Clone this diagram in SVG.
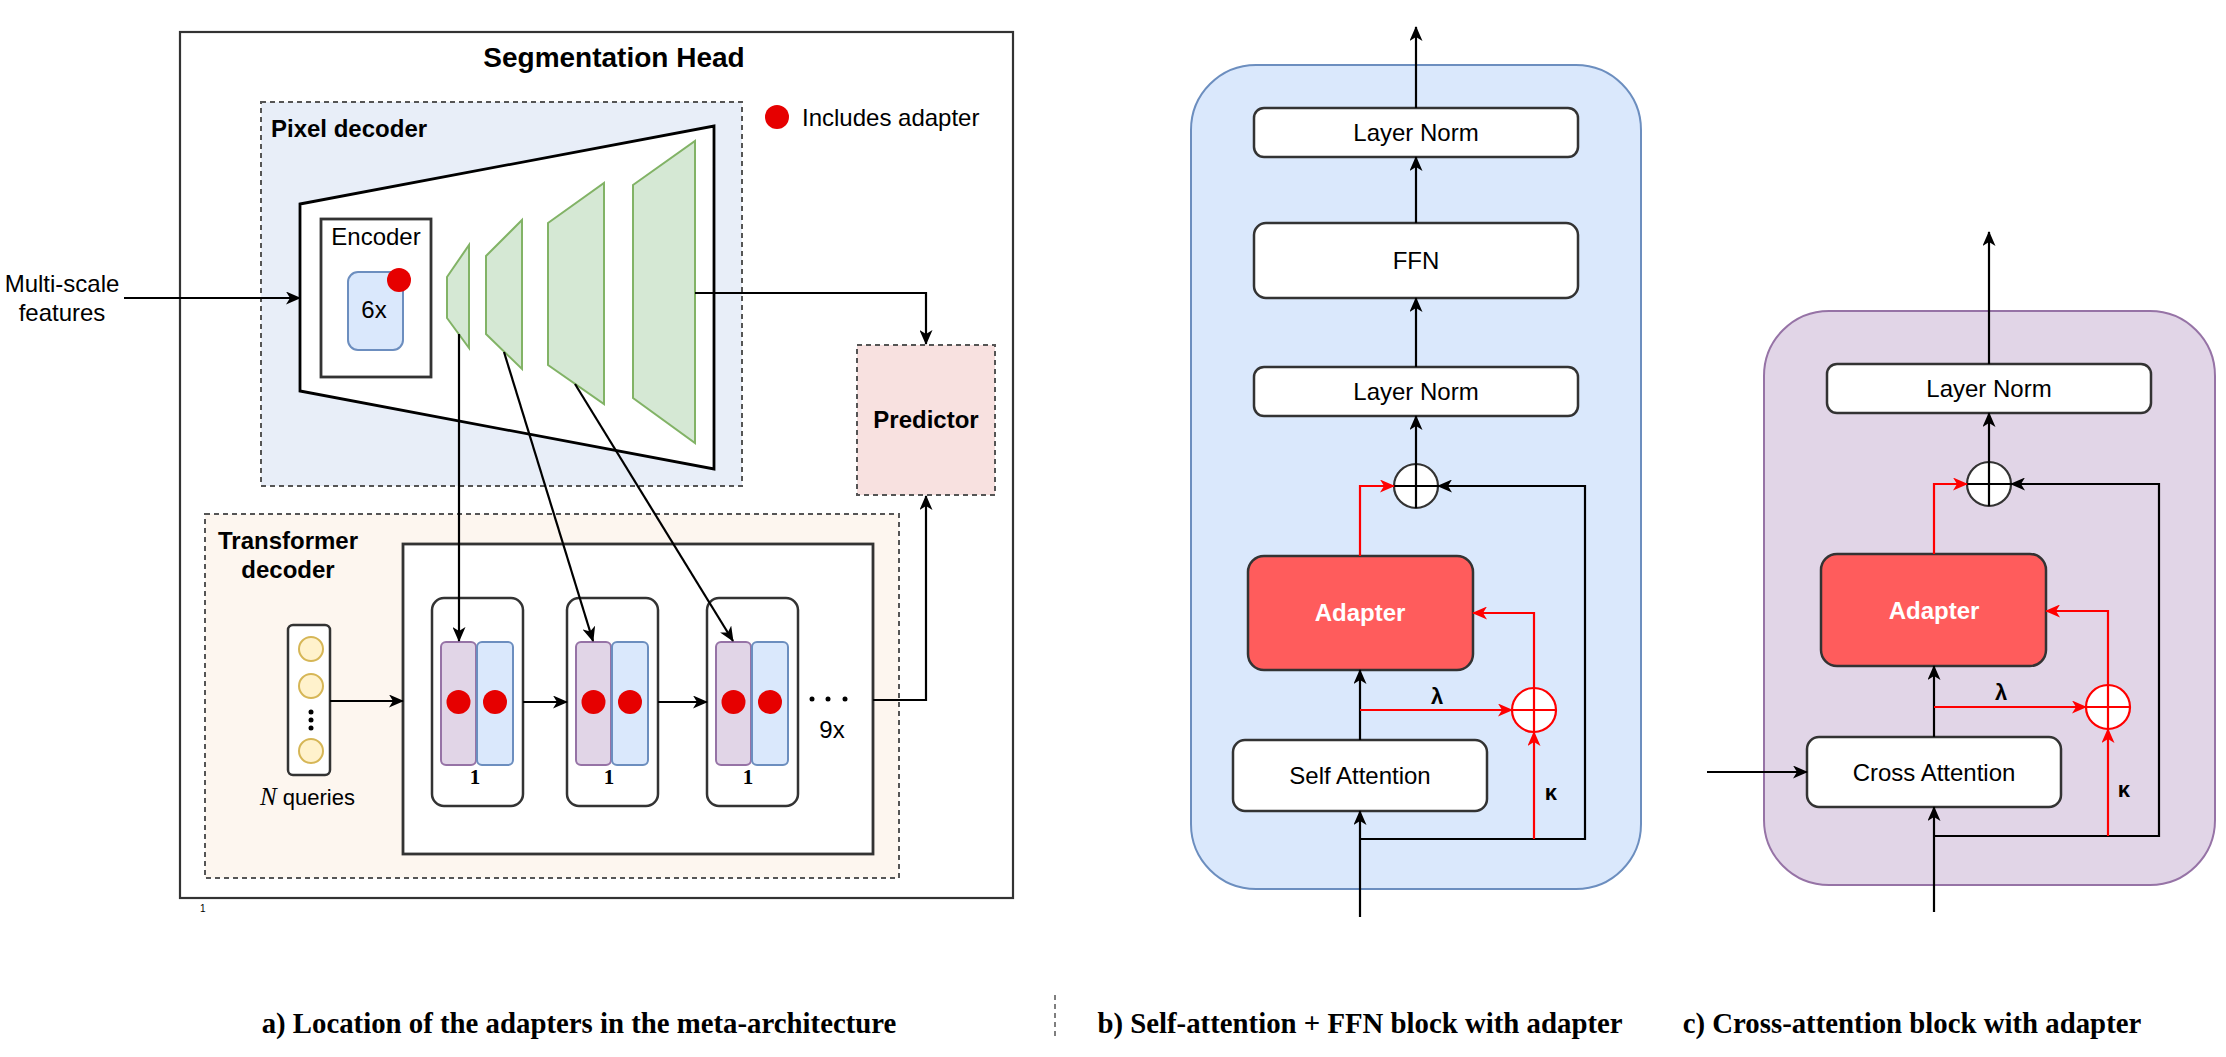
<svg xmlns="http://www.w3.org/2000/svg" width="2226" height="1057" viewBox="0 0 2226 1057">
<defs>
<marker id="arr" markerUnits="userSpaceOnUse" markerWidth="15" markerHeight="13" viewBox="0 0 15 13" refX="14" refY="6.5" orient="auto"><path d="M0,0 L15,6.5 L0,13 L4,6.5 Z" fill="#000"/></marker>
<marker id="arrR" markerUnits="userSpaceOnUse" markerWidth="15" markerHeight="13" viewBox="0 0 15 13" refX="14" refY="6.5" orient="auto"><path d="M0,0 L15,6.5 L0,13 L4,6.5 Z" fill="#ff0000"/></marker>
<style>
text{font-family:"Liberation Sans",Arial,sans-serif;fill:#000}
.t24{font-size:24px}
.b24{font-size:24px;font-weight:bold}
.cap{font-family:"Liberation Serif","Times New Roman",serif;font-size:28.8px;font-weight:bold;text-anchor:middle}
.mid{text-anchor:middle}
.greek{font-size:22px;font-weight:bold;text-anchor:middle}
.one{font-family:"Liberation Serif","Times New Roman",serif;font-weight:bold;font-size:21px;text-anchor:middle}
.ln{fill:none;stroke:#000;stroke-width:2.2}
.lnR{fill:none;stroke:#ff0000;stroke-width:2.2}
.box{fill:#fff;stroke:#333;stroke-width:2.5}
.adp{fill:#ff5c5c;stroke:#333;stroke-width:2.5}
.dot{fill:#e60000}
.green{fill:#d5e8d4;stroke:#82b366;stroke-width:2}
.pur{fill:#e1d5e7;stroke:#9673a6;stroke-width:2}
.blu{fill:#dae8fc;stroke:#6c8ebf;stroke-width:2}
.dash{stroke:#555;stroke-width:2;stroke-dasharray:5 4}
.q{fill:#fff2cc;stroke:#d6b656;stroke-width:2}
</style>
</defs>
<rect width="2226" height="1057" fill="#fff"/>

<!-- ===== a) Segmentation head ===== -->
<g id="segmentation-head">
<rect x="180" y="32" width="833" height="866" fill="#fff" stroke="#333" stroke-width="2.2"/>
<text x="614" y="67" class="mid" style="font-size:28px;font-weight:bold">Segmentation Head</text>
</g>

<g id="legend">
<circle cx="777" cy="117" r="12" class="dot"/>
<text x="802" y="126" class="t24">Includes adapter</text>
</g>

<g id="pixel-decoder">
<rect x="261" y="102" width="481" height="384" fill="#e8eef8" class="dash"/>
<text x="271" y="137" class="b24">Pixel decoder</text>
<polygon points="300,204 714,126 714,469 300,391" fill="#fff" stroke="#000" stroke-width="2.8"/>
<polygon points="447,277 469,245 469,348 447,318" class="green"/>
<polygon points="486,256 522,220 522,369 486,334" class="green"/>
<polygon points="548,223 604,183 604,404 548,365" class="green"/>
<polygon points="633,185 695,141 695,443 633,398" class="green"/>
</g>

<g id="encoder">
<rect x="321" y="219" width="110" height="158" fill="#fff" stroke="#333" stroke-width="2.8"/>
<text x="376" y="245" class="t24 mid">Encoder</text>
<rect x="348" y="272" width="55" height="78" rx="10" class="blu"/>
<text x="374" y="318" class="t24 mid">6x</text>
<circle cx="399" cy="280" r="12" class="dot"/>
</g>

<g id="multi-scale-features">
<text x="62" y="292" class="t24 mid">Multi-scale</text>
<text x="62" y="321" class="t24 mid">features</text>
</g>

<g id="predictor">
<rect x="857" y="345" width="138" height="150" fill="#f8e1e0" class="dash"/>
<text x="926" y="428" class="b24 mid">Predictor</text>
</g>

<g id="transformer-decoder">
<rect x="205" y="514" width="694" height="364" fill="#fdf6ef" class="dash"/>
<text x="288" y="549" class="b24 mid">Transformer</text>
<text x="288" y="578" class="b24 mid">decoder</text>
<rect x="403" y="544" width="470" height="310" fill="#fff" stroke="#333" stroke-width="2.8"/>
</g>

<g id="queries">
<rect x="288" y="625" width="42" height="150" rx="5" fill="#fff" stroke="#333" stroke-width="2.5"/>
<circle cx="311" cy="649" r="12" class="q"/>
<circle cx="311" cy="686" r="12" class="q"/>
<circle cx="311" cy="712" r="2.5" fill="#000"/>
<circle cx="311" cy="720" r="2.5" fill="#000"/>
<circle cx="311" cy="728" r="2.5" fill="#000"/>
<circle cx="311" cy="751" r="12" class="q"/>
<text x="260" y="805"><tspan style="font-family:'Liberation Serif','Times New Roman',serif;font-style:italic;font-size:25px">N</tspan><tspan style="font-size:22px"> queries</tspan></text>
</g>

<g id="block-1">
<rect x="432" y="598" width="91" height="208" rx="12" fill="#fff" stroke="#333" stroke-width="2.5"/>
<rect x="441" y="642" width="35" height="123" rx="5" class="pur"/>
<rect x="477" y="642" width="36" height="123" rx="5" class="blu"/>
<circle cx="458.5" cy="702" r="12" class="dot"/>
<circle cx="495" cy="702" r="12" class="dot"/>
<text x="475" y="784" class="one">1</text>
</g>
<g id="block-2">
<rect x="567" y="598" width="91" height="208" rx="12" fill="#fff" stroke="#333" stroke-width="2.5"/>
<rect x="576" y="642" width="35" height="123" rx="5" class="pur"/>
<rect x="612" y="642" width="36" height="123" rx="5" class="blu"/>
<circle cx="593.5" cy="702" r="12" class="dot"/>
<circle cx="630" cy="702" r="12" class="dot"/>
<text x="609" y="784" class="one">1</text>
</g>
<g id="block-3">
<rect x="707" y="598" width="91" height="208" rx="12" fill="#fff" stroke="#333" stroke-width="2.5"/>
<rect x="716" y="642" width="35" height="123" rx="5" class="pur"/>
<rect x="752" y="642" width="36" height="123" rx="5" class="blu"/>
<circle cx="733.5" cy="702" r="12" class="dot"/>
<circle cx="770" cy="702" r="12" class="dot"/>
<text x="748" y="784" class="one">1</text>
</g>
<g id="repeat-label">
<circle cx="812" cy="699" r="2.5" fill="#000"/>
<circle cx="828" cy="699" r="2.5" fill="#000"/>
<circle cx="845" cy="699" r="2.5" fill="#000"/>
<text x="832" y="738" class="t24 mid">9x</text>
</g>
<text x="200" y="912" style="font-size:10px" fill="#333">1</text>

<!-- ===== b) Self-attention block ===== -->
<g id="self-attn-block">
<rect x="1191" y="65" width="450" height="824" rx="65" fill="#dae8fc" stroke="#6c8ebf" stroke-width="2"/>
</g>
<g id="b-layernorm-top"><rect x="1254" y="108" width="324" height="49" rx="10" class="box"/><text x="1416" y="141" class="t24 mid">Layer Norm</text></g>
<g id="b-ffn"><rect x="1254" y="223" width="324" height="75" rx="12" class="box"/><text x="1416" y="269" class="t24 mid">FFN</text></g>
<g id="b-layernorm"><rect x="1254" y="367" width="324" height="49" rx="10" class="box"/><text x="1416" y="400" class="t24 mid">Layer Norm</text></g>
<g id="b-plus"><circle cx="1416" cy="486" r="22" fill="#fff" stroke="#333" stroke-width="2.2"/><path d="M1394,486 H1438 M1416,464 V508" class="ln"/></g>
<g id="b-adapter"><rect x="1248" y="556" width="225" height="114" rx="16" class="adp"/><text x="1360" y="621" class="b24 mid" style="fill:#fff">Adapter</text></g>
<g id="b-plus-red"><circle cx="1534" cy="710" r="22" fill="#fff" stroke="#ff0000" stroke-width="2.2"/><path d="M1512,710 H1556 M1534,688 V732" class="lnR"/></g>
<g id="b-self-attention"><rect x="1233" y="740" width="254" height="71" rx="12" class="box"/><text x="1360" y="784" class="t24 mid">Self Attention</text></g>
<text x="1437" y="704" class="greek">λ</text>
<text x="1551" y="800" class="greek">κ</text>

<!-- ===== c) Cross-attention block ===== -->
<g id="cross-attn-block">
<rect x="1764" y="311" width="451" height="574" rx="65" fill="#e1d5e7" stroke="#9673a6" stroke-width="2"/>
</g>
<g id="c-layernorm"><rect x="1827" y="364" width="324" height="49" rx="10" class="box"/><text x="1989" y="397" class="t24 mid">Layer Norm</text></g>
<g id="c-plus"><circle cx="1989" cy="484" r="22" fill="#fff" stroke="#333" stroke-width="2.2"/><path d="M1967,484 H2011 M1989,462 V506" class="ln"/></g>
<g id="c-adapter"><rect x="1821" y="554" width="225" height="112" rx="16" class="adp"/><text x="1934" y="619" class="b24 mid" style="fill:#fff">Adapter</text></g>
<g id="c-plus-red"><circle cx="2108" cy="707" r="22" fill="#fff" stroke="#ff0000" stroke-width="2.2"/><path d="M2086,707 H2130 M2108,685 V729" class="lnR"/></g>
<g id="c-cross-attention"><rect x="1807" y="737" width="254" height="70" rx="12" class="box"/><text x="1934" y="781" class="t24 mid">Cross Attention</text></g>
<text x="2001" y="700" class="greek">λ</text>
<text x="2124" y="797" class="greek">κ</text>

<!-- ===== connectors ===== -->
<g id="connectors">
<!-- a -->
<line x1="124" y1="298" x2="300" y2="298" class="ln" marker-end="url(#arr)"/>
<polyline points="695,293 926,293 926,344" class="ln" marker-end="url(#arr)"/>
<line x1="459" y1="334" x2="459" y2="641" class="ln" marker-end="url(#arr)"/>
<line x1="504" y1="352" x2="593" y2="641" class="ln" marker-end="url(#arr)"/>
<line x1="575" y1="384" x2="733" y2="641" class="ln" marker-end="url(#arr)"/>
<line x1="330" y1="701" x2="403" y2="701" class="ln" marker-end="url(#arr)"/>
<line x1="523" y1="702" x2="567" y2="702" class="ln" marker-end="url(#arr)"/>
<line x1="658" y1="702" x2="707" y2="702" class="ln" marker-end="url(#arr)"/>
<polyline points="873,700 926,700 926,496" class="ln" marker-end="url(#arr)"/>
<!-- b -->
<line x1="1416" y1="108" x2="1416" y2="27" class="ln" marker-end="url(#arr)"/>
<line x1="1416" y1="223" x2="1416" y2="157" class="ln" marker-end="url(#arr)"/>
<line x1="1416" y1="367" x2="1416" y2="298" class="ln" marker-end="url(#arr)"/>
<line x1="1416" y1="464" x2="1416" y2="416" class="ln" marker-end="url(#arr)"/>
<polyline points="1360,556 1360,486 1394,486" class="lnR" marker-end="url(#arrR)"/>
<polyline points="1360,839 1585,839 1585,486 1438,486" class="ln" marker-end="url(#arr)"/>
<line x1="1360" y1="917" x2="1360" y2="811" class="ln" marker-end="url(#arr)"/>
<line x1="1360" y1="740" x2="1360" y2="670" class="ln" marker-end="url(#arr)"/>
<line x1="1360" y1="710" x2="1512" y2="710" class="lnR" marker-end="url(#arrR)"/>
<line x1="1534" y1="839" x2="1534" y2="732" class="lnR" marker-end="url(#arrR)"/>
<polyline points="1534,688 1534,613 1473,613" class="lnR" marker-end="url(#arrR)"/>
<!-- c -->
<line x1="1989" y1="364" x2="1989" y2="232" class="ln" marker-end="url(#arr)"/>
<line x1="1989" y1="462" x2="1989" y2="413" class="ln" marker-end="url(#arr)"/>
<polyline points="1934,554 1934,484 1967,484" class="lnR" marker-end="url(#arrR)"/>
<polyline points="1934,836 2159,836 2159,484 2011,484" class="ln" marker-end="url(#arr)"/>
<line x1="1934" y1="912" x2="1934" y2="807" class="ln" marker-end="url(#arr)"/>
<line x1="1934" y1="737" x2="1934" y2="666" class="ln" marker-end="url(#arr)"/>
<line x1="1707" y1="772" x2="1807" y2="772" class="ln" marker-end="url(#arr)"/>
<line x1="1934" y1="707" x2="2086" y2="707" class="lnR" marker-end="url(#arrR)"/>
<line x1="2108" y1="836" x2="2108" y2="729" class="lnR" marker-end="url(#arrR)"/>
<polyline points="2108,685 2108,611 2046,611" class="lnR" marker-end="url(#arrR)"/>
</g>

<!-- ===== captions ===== -->
<g id="captions">
<line x1="1055" y1="995" x2="1055" y2="1040" stroke="#555" stroke-width="1.5" stroke-dasharray="5 4"/>
<text x="579" y="1033" class="cap">a) Location of the adapters in the meta-architecture</text>
<text x="1360" y="1033" class="cap">b) Self-attention + FFN block with adapter</text>
<text x="1912" y="1033" class="cap">c) Cross-attention block with adapter</text>
</g>
</svg>
